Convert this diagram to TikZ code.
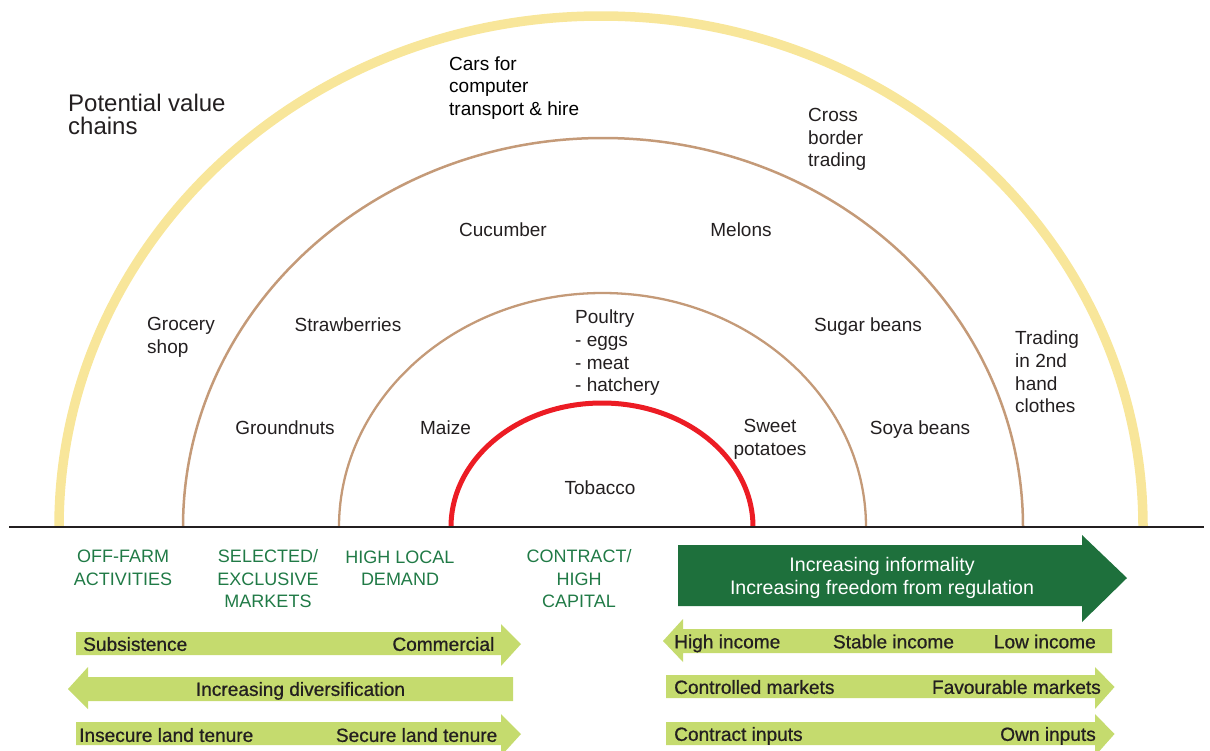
\documentclass[tikz,border=0pt]{standalone}
\usepackage{fontspec}
\setmainfont{Liberation Sans}
\newfontfamily\medfont[FakeBold=0.7]{Liberation Sans}
\definecolor{arcyellow}{HTML}{F8E69A}
\definecolor{arcbrown}{HTML}{C49A78}
\definecolor{arcred}{HTML}{EC1C24}
\definecolor{darkgreen}{HTML}{1E703C}
\definecolor{lightgreen}{HTML}{C5DB6E}
\definecolor{labelgreen}{HTML}{207A46}
\definecolor{textgray}{HTML}{231F20}
\begin{document}
\begin{tikzpicture}[x=1pt,y=-1pt,
  lbl/.style={font=\fontsize{19}{22.7}\selectfont, text=textgray, inner sep=0pt, align=left},
  one/.style={text height=13.7pt, text depth=0pt},
  cat/.style={font=\fontsize{18}{22.5}\selectfont, text=labelgreen, inner sep=0pt, align=center},
  arrtxt/.style={font=\medfont\fontsize{19.1}{22.5}\selectfont, text=textgray, inner sep=0pt, text height=13.7pt, text depth=0pt},
  lightarrow/.style={fill=lightgreen, draw=none},
  ring/.style={line cap=butt}
]
\useasboundingbox (0,0) rectangle (1210,750);

% arcs
\draw[ring, arcyellow, line width=9.5pt] (59,527) arc[start angle=180, end angle=0, x radius=542pt, y radius=511pt];
\draw[ring, arcbrown, line width=2.5pt] (183,527) arc[start angle=180, end angle=0, x radius=420pt, y radius=389pt];
\draw[ring, arcbrown, line width=2.3pt] (339,527) arc[start angle=180, end angle=0, x radius=263.5pt, y radius=234pt];
\draw[ring, arcred, line width=5pt] (451,527) arc[start angle=180, end angle=0, x radius=151pt, y radius=124pt];

% baseline
\coordinate (bl) at (9,527);
\coordinate (br) at (1204,527);
\draw[textgray, line width=2.5pt] (bl) -- (br);

% arc labels
\node[lbl, font=\fontsize{24}{23}\selectfont, anchor=west] (pvc) at (68,114.5) {Potential value\\chains};
\node[lbl, text=black, anchor=west] (cars) at (449,88) {Cars for\\computer\\transport \& hire};
\node[lbl, anchor=west] (cross) at (808,139.5) {Cross\\border\\trading};
\node[lbl, one] (cucumber) at (503,230) {Cucumber};
\node[lbl, one] (melons) at (741,230) {Melons};
\node[lbl, anchor=west] (grocery) at (147,337) {Grocery\\shop};
\node[lbl, one] (straw) at (348,325) {Strawberries};
\node[lbl, anchor=west] (poultry) at (575,353) {Poultry\\- eggs\\- meat\\- hatchery};
\node[lbl, one] (sugar) at (868,325) {Sugar beans};
\node[lbl, anchor=west] (trading) at (1015,372) {Trading\\in 2nd\\hand\\clothes};
\node[lbl, one] (ground) at (285,428) {Groundnuts};
\node[lbl, one] (maize) at (445.5,428) {Maize};
\node[lbl, align=center] (sweet) at (770,439.5) {Sweet\\potatoes};
\node[lbl, one] (soya) at (920,428) {Soya beans};
\node[lbl, one] (tobacco) at (600,488) {Tobacco};

% category labels
\node[cat] (offfarm) at (123,568) {OFF-FARM\\ACTIVITIES};
\node[cat] (selected) at (268,579) {SELECTED/\\EXCLUSIVE\\MARKETS};
\node[cat] (highlocal) at (400,568) {HIGH LOCAL\\DEMAND};
\node[cat] (contract) at (579,579) {CONTRACT/\\HIGH\\CAPITAL};

% dark green arrow
\fill[darkgreen] (678,545) -- (1082,545) -- (1082,535) -- (1127,578) -- (1082,622) -- (1082,606) -- (678,606) -- cycle;
\node[inner sep=0pt, align=center, text=white, font=\fontsize{19.6}{23}\selectfont] (informal) at (882,577.5) {Increasing informality\\Increasing freedom from regulation};

% left light arrows
\fill[lightarrow] (76,632) -- (501,632) -- (501,624) -- (521,644) -- (501,666) -- (501,655) -- (76,655) -- cycle;
\node[arrtxt, anchor=west] (subs) at (83,644) {Subsistence};
\node[arrtxt, anchor=east] (comm) at (494.5,644) {Commercial};

\fill[lightarrow] (513,677) -- (88,677) -- (88,667) -- (68,689) -- (88,709) -- (88,701) -- (513,701) -- cycle;
\node[arrtxt] (divers) at (300.5,689) {Increasing diversification};

\fill[lightarrow] (76,722) -- (501,722) -- (501,714) -- (521,734) -- (501,756) -- (501,745) -- (76,745) -- cycle;
\node[arrtxt, anchor=west] (insecure) at (79,735) {Insecure land tenure};
\node[arrtxt, anchor=east] (secure) at (497.5,735) {Secure land tenure};

% right light arrows
\fill[lightarrow] (1112,629) -- (683,629) -- (683,619) -- (663,641) -- (683,662) -- (683,653) -- (1112,653) -- cycle;
\node[arrtxt, anchor=west] (highinc) at (674,641.5) {High income};
\node[arrtxt] (stableinc) at (893.5,641.5) {Stable income};
\node[arrtxt, anchor=east] (lowinc) at (1096,641.5) {Low income};

\fill[lightarrow] (666,675) -- (1095,675) -- (1095,667) -- (1114.5,687) -- (1095,709) -- (1095,698) -- (666,698) -- cycle;
\node[arrtxt, anchor=west] (controlled) at (674,687) {Controlled markets};
\node[arrtxt, anchor=east] (favour) at (1101,687) {Favourable markets};

\fill[lightarrow] (666,722) -- (1095,722) -- (1095,714) -- (1114.5,734) -- (1095,756) -- (1095,745) -- (666,745) -- cycle;
\node[arrtxt, anchor=west] (cinputs) at (674,734) {Contract inputs};
\node[arrtxt, anchor=east] (owninputs) at (1096,734) {Own inputs};
\end{tikzpicture}
\end{document}
